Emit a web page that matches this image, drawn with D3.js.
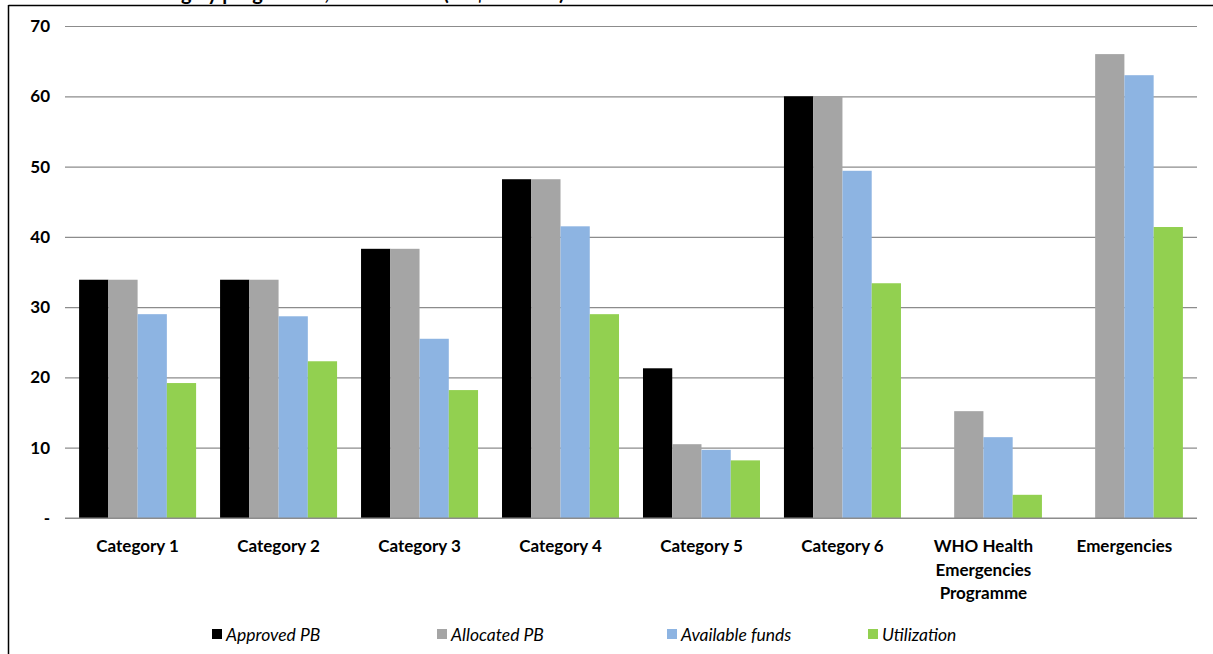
<!DOCTYPE html>
<html><head><meta charset="utf-8">
<script src="https://cdn.jsdelivr.net/npm/d3@7"></script>
<style>
html,body{margin:0;padding:0;background:#fff;}
svg text{font-family:Lato,"Open Sans",sans-serif;fill:#000;}
</style></head>
<body><svg id="chart" width="1213" height="654"></svg>
<script>
const categories = ["Category 1","Category 2","Category 3","Category 4","Category 5","Category 6","WHO Health Emergencies Programme","Emergencies"];
const categoryLines = [["Category 1"],["Category 2"],["Category 3"],["Category 4"],["Category 5"],["Category 6"],["WHO Health","Emergencies","Programme"],["Emergencies"]];
const seriesNames = ["Approved PB","Allocated PB","Available funds","Utilization"];
const approvedPB = [33.9,33.9,38.3,48.2,21.3,60.0,null,null];
const allocatedPB = [33.9,33.9,38.3,48.2,10.5,60.0,15.2,66.0];
const availableFunds = [29.0,28.7,25.5,41.5,9.7,49.4,11.5,63.0];
const utilization = [19.2,22.3,18.2,29.0,8.2,33.4,3.3,41.4];
const yTicks = [0,10,20,30,40,50,60,70];
const yTickLabels = ["-","10","20","30","40","50","60","70"];
const colors = ["#000000","#a5a5a5","#8db4e2","#92d050"];
const titleText = "Funding by programme, 2018–2019 (US$ millions)";

(function(){
const series = [approvedPB, allocatedPB, availableFunds, utilization];
const svg = d3.select("#chart");
const pl = 65, pr = 1197, pt = 26, pb = 518;

// frame
svg.append("line").attr("x1",8.5).attr("x2",1213).attr("y1",5.5).attr("y2",5.5).attr("stroke","#000").attr("stroke-width",1.5);
svg.append("line").attr("x1",8.5).attr("x2",8.5).attr("y1",5).attr("y2",654).attr("stroke","#000").attr("stroke-width",1.5);
// title, clipped by the top edge as in the reference
svg.append("text").attr("x",120).attr("y",0).attr("font-size",20).attr("font-weight","bold").text(titleText);

const y = d3.scaleLinear().domain([0,70]).range([pb, pt]);
const x0 = d3.scaleBand().domain(categories).range([pl, pr]).paddingInner(0.17).paddingOuter(0.1);
const x1 = d3.scaleBand().domain(seriesNames).range([0, x0.bandwidth()]);

// gridlines
const yAxis = d3.axisLeft(y).tickValues(yTicks).tickSize(-(pr-pl)).tickFormat((d,i)=>yTickLabels[i]).tickPadding(15);
const gy = svg.append("g").attr("transform",`translate(${pl},0)`).call(yAxis);
gy.select(".domain").remove();
gy.selectAll(".tick line").attr("stroke","#8c8c8c").attr("stroke-width",1.2);
gy.selectAll(".tick text").attr("font-size",17).attr("font-weight","bold").attr("fill","#000").attr("font-family","Lato, 'Open Sans', sans-serif");

// bars
const groups = svg.append("g").selectAll("g").data(categories).join("g")
  .attr("transform", d => `translate(${x0(d)},0)`);
groups.selectAll("rect").data((c,ci)=>seriesNames.map((s,si)=>({s, v: series[si][ci], si})).filter(d => d.v != null))
  .join("rect")
  .attr("x", d => x1(d.s))
  .attr("width", x1.bandwidth())
  .attr("y", d => y(d.v))
  .attr("height", d => y(0) - y(d.v))
  .attr("fill", d => colors[d.si]);

// baseline
svg.append("line").attr("x1",pl).attr("x2",pr).attr("y1",y(0)).attr("y2",y(0)).attr("stroke","#8c8c8c").attr("stroke-width",1.2);

// category labels
const xl = svg.append("g");
categories.forEach((c,i)=>{
  const cx = x0(c)+x0.bandwidth()/2;
  const t = xl.append("text").attr("x", cx).attr("y",552)
    .attr("text-anchor","middle").attr("font-size",17).attr("font-weight","bold");
  categoryLines[i].forEach((ln,j)=>{
    t.append("tspan").attr("x", cx).attr("dy", j===0?0:23.5).text(ln);
  });
});

// legend
const legendX = [212, 437, 667, 868];
const lg = svg.append("g");
seriesNames.forEach((s,i)=>{
  lg.append("rect").attr("x",legendX[i]).attr("y",629).attr("width",10).attr("height",10).attr("fill",colors[i]);
  lg.append("text").attr("x",legendX[i]+14).attr("y",641).attr("font-size",17.5).attr("font-style","italic").text(s);
});
})();
</script></body></html>
